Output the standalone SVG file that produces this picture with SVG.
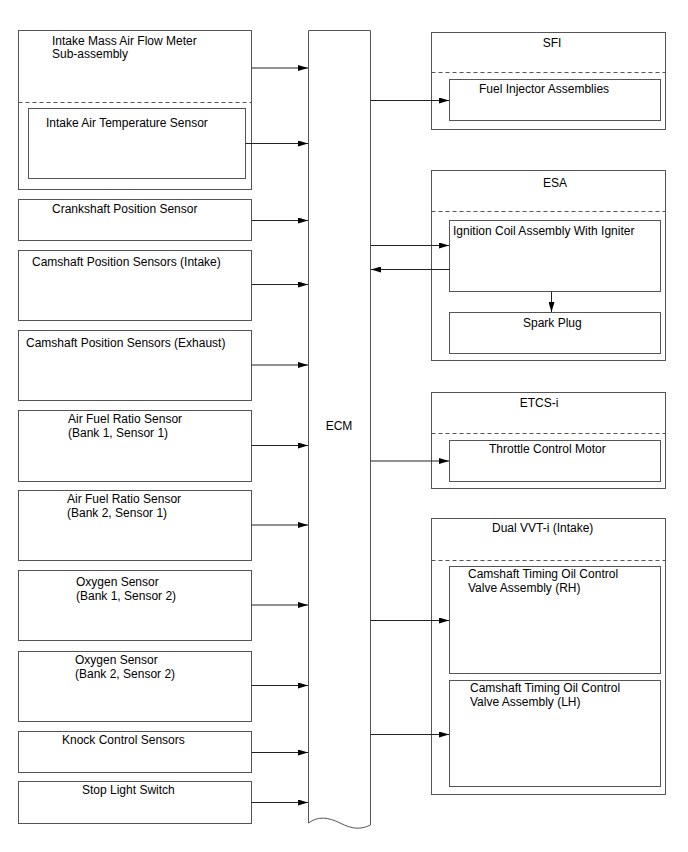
<svg xmlns="http://www.w3.org/2000/svg" width="688" height="852" viewBox="0 0 688 852">
<style>
.b{fill:#fff;stroke:#555;stroke-width:1}
.d{fill:none;stroke:#555;stroke-width:1;stroke-dasharray:4,3}
.c{fill:none;stroke:#222;stroke-width:1;marker-end:url(#ah)}
text{font-family:"Liberation Sans",Arial,sans-serif;font-size:12px;fill:#000}
.m{text-anchor:middle}
</style>
<defs>
<marker id="ah" viewBox="0 0 10 6" refX="10" refY="3" markerWidth="10" markerHeight="6" markerUnits="userSpaceOnUse" orient="auto">
<path d="M0,0 L10,3 L0,6 Z" fill="#000"/>
</marker>
</defs>
<rect width="688" height="852" fill="#fff"/>

<g id="ecm">
<path class="b" d="M308.5,823 V30.5 H370.5 V825 C360,830 352,829 340,823 C328,817 318,816 308.5,823 Z"/>
<text class="m" x="339" y="430">ECM</text>
</g>

<g id="maf">
<rect class="b" x="18.5" y="30.5" width="233" height="159"/>
<line class="d" x1="18.5" y1="102.5" x2="251.5" y2="102.5"/>
<text x="52" y="45">Intake Mass Air Flow Meter</text>
<text x="52" y="58">Sub-assembly</text>
</g>
<g id="iat">
<rect class="b" x="28.5" y="108.5" width="217" height="70"/>
<text x="46" y="127">Intake Air Temperature Sensor</text>
</g>
<g id="ckp">
<rect class="b" x="18.5" y="199.5" width="233" height="41"/>
<text x="52" y="213">Crankshaft Position Sensor</text>
</g>
<g id="cmp-in">
<rect class="b" x="18.5" y="250.5" width="233" height="70"/>
<text x="32" y="266">Camshaft Position Sensors (Intake)</text>
</g>
<g id="cmp-ex">
<rect class="b" x="18.5" y="330.5" width="233" height="70"/>
<text x="26" y="347">Camshaft Position Sensors (Exhaust)</text>
</g>
<g id="afr1">
<rect class="b" x="18.5" y="410.5" width="233" height="71"/>
<text x="68" y="423">Air Fuel Ratio Sensor</text>
<text x="68" y="437">(Bank 1, Sensor 1)</text>
</g>
<g id="afr2">
<rect class="b" x="18.5" y="490.5" width="233" height="70"/>
<text x="67" y="503">Air Fuel Ratio Sensor</text>
<text x="67" y="517">(Bank 2, Sensor 1)</text>
</g>
<g id="o2-1">
<rect class="b" x="18.5" y="570.5" width="233" height="70"/>
<text x="76" y="586">Oxygen Sensor</text>
<text x="76" y="600">(Bank 1, Sensor 2)</text>
</g>
<g id="o2-2">
<rect class="b" x="18.5" y="651.5" width="233" height="70"/>
<text x="75" y="664">Oxygen Sensor</text>
<text x="75" y="678">(Bank 2, Sensor 2)</text>
</g>
<g id="knock">
<rect class="b" x="18.5" y="731.5" width="233" height="41"/>
<text x="62" y="744">Knock Control Sensors</text>
</g>
<g id="stop">
<rect class="b" x="18.5" y="781.5" width="233" height="42"/>
<text x="82" y="794">Stop Light Switch</text>
</g>

<g id="sfi">
<rect class="b" x="431.5" y="32.5" width="234" height="97"/>
<line class="d" x1="431.5" y1="72.5" x2="665.5" y2="72.5"/>
<text class="m" x="552" y="47">SFI</text>
</g>
<g id="injector">
<rect class="b" x="449.5" y="79.5" width="211" height="41"/>
<text x="479" y="93">Fuel Injector Assemblies</text>
</g>
<g id="esa">
<rect class="b" x="431.5" y="170.5" width="234" height="190"/>
<line class="d" x1="431.5" y1="211.5" x2="665.5" y2="211.5"/>
<text class="m" x="555" y="187">ESA</text>
</g>
<g id="ignition">
<rect class="b" x="449.5" y="220.5" width="211" height="71"/>
<text x="453" y="235">Ignition Coil Assembly With Igniter</text>
</g>
<g id="spark">
<rect class="b" x="449.5" y="312.5" width="211" height="41"/>
<text x="523" y="327">Spark Plug</text>
</g>
<g id="etcs">
<rect class="b" x="431.5" y="392.5" width="234" height="96"/>
<line class="d" x1="431.5" y1="433.5" x2="665.5" y2="433.5"/>
<text class="m" x="539" y="407">ETCS-i</text>
</g>
<g id="throttle">
<rect class="b" x="449.5" y="440.5" width="211" height="41"/>
<text x="489" y="453">Throttle Control Motor</text>
</g>
<g id="vvt">
<rect class="b" x="431.5" y="518.5" width="234" height="276"/>
<line class="d" x1="431.5" y1="560.5" x2="665.5" y2="560.5"/>
<text x="492" y="532">Dual VVT-i (Intake)</text>
</g>
<g id="ocv-rh">
<rect class="b" x="449.5" y="566.5" width="211" height="107"/>
<text x="468" y="578">Camshaft Timing Oil Control</text>
<text x="468" y="592">Valve Assembly (RH)</text>
</g>
<g id="ocv-lh">
<rect class="b" x="449.5" y="680.5" width="211" height="106"/>
<text x="470" y="692">Camshaft Timing Oil Control</text>
<text x="470" y="706">Valve Assembly (LH)</text>
</g>

<g id="connectors">
<line class="c" x1="251.5" y1="68" x2="308" y2="68"/>
<line class="c" x1="245.5" y1="143.5" x2="308" y2="143.5"/>
<line class="c" x1="251.5" y1="220.5" x2="308" y2="220.5"/>
<line class="c" x1="251.5" y1="284.5" x2="308" y2="284.5"/>
<line class="c" x1="251.5" y1="365" x2="308" y2="365"/>
<line class="c" x1="251.5" y1="445.5" x2="308" y2="445.5"/>
<line class="c" x1="251.5" y1="525" x2="308" y2="525"/>
<line class="c" x1="251.5" y1="605" x2="308" y2="605"/>
<line class="c" x1="251.5" y1="685.5" x2="308" y2="685.5"/>
<line class="c" x1="251.5" y1="752.5" x2="308" y2="752.5"/>
<line class="c" x1="251.5" y1="802.5" x2="308" y2="802.5"/>
<line class="c" x1="370.5" y1="100.5" x2="449" y2="100.5"/>
<line class="c" x1="370.5" y1="245.5" x2="449" y2="245.5"/>
<line class="c" x1="449.5" y1="269.5" x2="371" y2="269.5"/>
<line class="c" x1="551.5" y1="291.5" x2="551.5" y2="312"/>
<line class="c" x1="370.5" y1="461" x2="449" y2="461"/>
<line class="c" x1="370.5" y1="620.5" x2="449" y2="620.5"/>
<line class="c" x1="370.5" y1="734.5" x2="449" y2="734.5"/>
</g>
</svg>
